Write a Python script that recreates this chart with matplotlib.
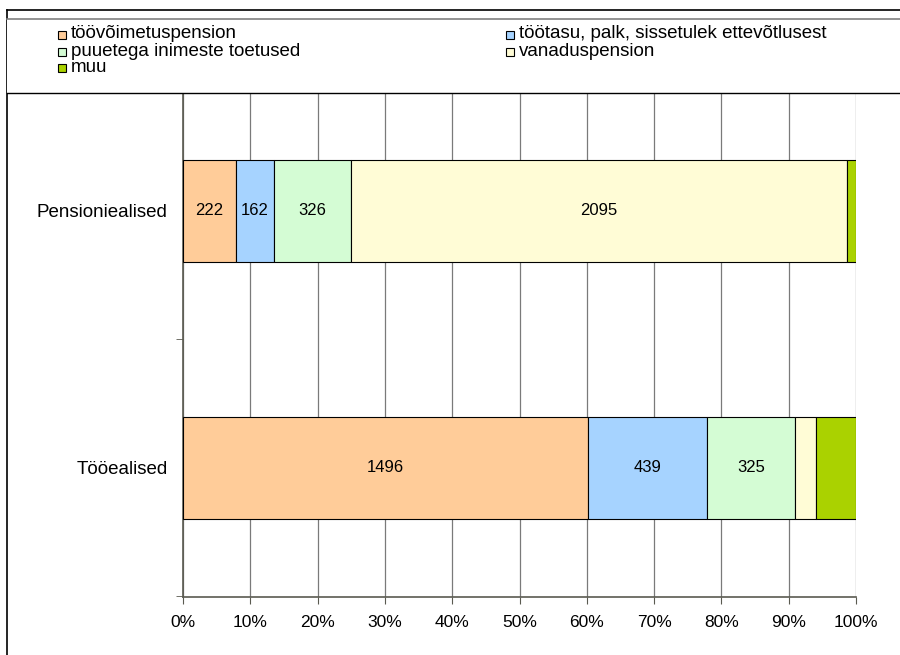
import matplotlib.pyplot as plt
import numpy as np
from matplotlib.lines import Line2D
from matplotlib.patches import Rectangle

plt.rcParams['font.family'] = ['Liberation Sans', 'DejaVu Sans']

# Andmed
groups = ['Tööealised', 'Pensioniealised']
series = ['töövõimetuspension', 'töötasu, palk, sissetulek ettevõtlusest',
          'puuetega inimeste toetused', 'vanaduspension', 'muu']
values = {
    'töövõimetuspension': [1496, 222],
    'töötasu, palk, sissetulek ettevõtlusest': [439, 162],
    'puuetega inimeste toetused': [325, 326],
    'vanaduspension': [79, 2095],
    'muu': [147, 38],
}
colors = ['#FFCC99', '#A6D3FF', '#D4FCD4', '#FFFCD6', '#AAD200']
show_label = [True, True, True, True, False]

data = np.array([values[s] for s in series], dtype=float)
totals = data.sum(axis=0)
shares = data / totals * 100

fig = plt.figure(figsize=(9, 6.55), dpi=100)
ax = fig.add_axes([183 / 900, 1 - 597 / 655, (856 - 183) / 900, (597 - 93) / 655])

y = np.arange(len(groups))
left = np.zeros(len(groups))
for i, s in enumerate(series):
    ax.barh(y, shares[i], left=left, height=0.4, color=colors[i],
            edgecolor='black', linewidth=0.8, zorder=3)
    for j in range(len(groups)):
        if show_label[i] and shares[i, j] > 5:
            ax.text(left[j] + shares[i, j] / 2, y[j], f'{int(data[i, j])}',
                    ha='center', va='center', fontsize=12, zorder=4)
    left += shares[i]

ax.set_xlim(0, 100)
ax.set_ylim(-0.502, 1.459)
ax.set_xticks(np.arange(0, 101, 10))
ax.set_xticklabels([f'{v}%' for v in range(0, 101, 10)], fontsize=12.5)
ax.set_yticks(y)
ax.set_yticklabels(groups, fontsize=13.5)
ax.set_yticks([-0.5, 0.5], minor=True)
ax.tick_params(axis='y', which='major', length=0, pad=11)
ax.tick_params(axis='y', which='minor', length=5, direction='out', color='#5a5a50')
ax.tick_params(axis='x', length=5, direction='out', color='#5a5a50', pad=8)
ax.grid(axis='x', color='#7a7a7a', linewidth=0.9, zorder=0)
for side in ['top', 'right']:
    ax.spines[side].set_visible(False)
for side in ['left', 'bottom']:
    ax.spines[side].set_color('#5a5a50')
    ax.spines[side].set_linewidth(1.2)

# raam ja legend
fig.add_artist(Line2D([7 / 900, 1], [1 - 10 / 655] * 2, color='black', lw=1.2))
fig.add_artist(Line2D([7 / 900, 7 / 900], [0, 1 - 10 / 655], color='black', lw=1.2))
fig.add_artist(Rectangle((7 / 900, 1 - 93 / 655), 1, (93 - 19) / 655,
                         facecolor='white', edgecolor='none', zorder=5))
fig.add_artist(Line2D([7 / 900, 1], [1 - 19 / 655] * 2, color='#808080', lw=1.2, zorder=6))
fig.add_artist(Line2D([7 / 900, 1], [1 - 93 / 655] * 2, color='black', lw=1.0, zorder=6))

leg_x = [58, 506]
leg_y = [35, 52, 68]
for k, s in enumerate(series):
    row, col = k // 2, k % 2
    px, py = leg_x[col], leg_y[row]
    fig.add_artist(Rectangle((px / 900, 1 - (py + 4) / 655), 8 / 900, 8 / 655,
                             facecolor=colors[k], edgecolor='black', lw=0.8, zorder=7))
    fig.text((px + 13) / 900, 1 - (py - 1) / 655, s, fontsize=13.5, va='center', zorder=7)

fig.savefig('out.png', dpi=100)
